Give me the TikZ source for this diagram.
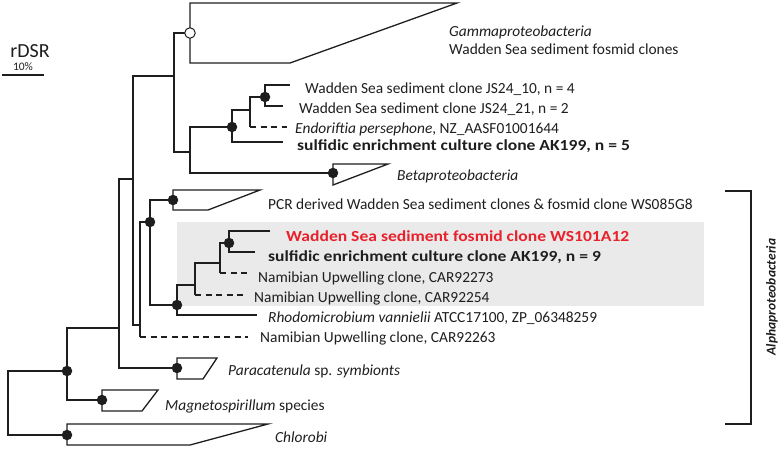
\documentclass[tikz,border=0pt]{standalone}
\usepackage{fontspec}
\setmainfont{Carlito}
\definecolor{lc}{HTML}{1E1E1E}
\definecolor{tc}{HTML}{1E1E1E}
\definecolor{redtxt}{HTML}{E8212B}
\definecolor{greybox}{HTML}{EAEAEA}
\newcommand{\wbold}[1]{\scalebox{1.14}[1]{\bfseries #1}}
\begin{document}
\begin{tikzpicture}[x=1pt,y=-1pt,
  br/.style={draw=lc, line width=1.3pt},
  dashbr/.style={draw=lc, line width=1.3pt, dash pattern=on 6pt off 4.5pt},
  clade/.style={draw=lc, line width=1.3pt, line join=miter},
  dot/.style={circle, fill=lc, inner sep=0pt, minimum size=10.5pt},
  odot/.style={circle, draw=lc, fill=white, line width=1pt, inner sep=0pt, minimum size=10.5pt},
  lbl/.style={anchor=base west, inner sep=0pt, font=\fontsize{15.4}{18}\selectfont, text=tc}]
\useasboundingbox (0,0) rectangle (780,448);
% highlight box
\fill[greybox] (177,222) rectangle (704,306);
% scale
\node[font=\fontsize{20}{24}\selectfont, text=tc, inner sep=0pt] (rdsr) at (30,51) {rDSR};
\node[font=\fontsize{11.5}{13}\selectfont, text=tc, inner sep=0pt] (pct) at (23,67) {10\%};
\coordinate (sbL) at (2,75);
\coordinate (sbR) at (44,75);
\draw[br] (sbL) -- (sbR);
% tree coordinates
\coordinate (R) at (8,400);
\coordinate (A67) at (67,371);
\coordinate (Chl) at (67,435);
\coordinate (Mag) at (102,400);
\coordinate (N119) at (119,328);
\coordinate (N133) at (133,179);
\coordinate (Para) at (177,368);
\coordinate (N174) at (174,76);
\coordinate (N140) at (140,325);
\coordinate (Gam) at (190,33);
\coordinate (N190) at (190,152);
\coordinate (C232) at (232,127);
\coordinate (Beta) at (333,173);
\coordinate (N250) at (250,110);
\coordinate (N265) at (265,97);
\coordinate (L1) at (290,85);
\coordinate (L2) at (283,106);
\coordinate (Lendo) at (287,127);
\coordinate (L5) at (283,142);
\coordinate (N150) at (150,222);
\coordinate (L63) at (248,337);
\coordinate (PCR) at (173,200);
\coordinate (G177) at (177,305);
\coordinate (N195) at (195,285);
\coordinate (Lrho) at (257,315);
\coordinate (N220) at (220,263);
\coordinate (L54) at (243,295);
\coordinate (N229) at (229,243);
\coordinate (L73) at (247,273);
\coordinate (Lred) at (270,231);
\coordinate (L9) at (255,252);
% branches
\draw[br] (A67) -| (R) |- (Chl);
\draw[br] (N119) -| (A67) |- (Mag);
\draw[br] (N133) -| (N119) |- (Para);
\draw[br] (N174) -| (N133) |- (N140);
\draw[br] (Gam) -| (N174) |- (N190);
\draw[br] (C232) -| (N190) |- (Beta);
\draw[br] (N250) -| (C232) |- (L5);
\draw[br] (N265) -| (N250) -- (N250 |- Lendo);
\draw[dashbr] (N250 |- Lendo) -- (Lendo);
\draw[br] (L1) -| (N265) |- (L2);
\draw[br] (N150) -| (N140) -- (N140 |- L63);
\draw[dashbr] (N140 |- L63) -- (L63);
\draw[br] (PCR) -| (N150) |- (G177);
\draw[br] (N195) -| (G177) |- (Lrho);
\draw[br] (N220) -| (N195) -- (N195 |- L54);
\draw[dashbr] (N195 |- L54) -- (L54);
\draw[br] (N229) -| (N220) -- (N220 |- L73);
\draw[dashbr] (N220 |- L73) -- (L73);
\draw[br] (Lred) -| (N229) |- (L9);
% collapsed clades
\draw[clade] (190,3) -- (457,3) -- (290,63) -- (190,63) -- cycle;
\draw[clade] (333,164) -- (388,164) -- (333,185) -- cycle;
\draw[clade] (173,190) -- (260,190) -- (208,210) -- (173,210) -- cycle;
\draw[clade] (177,358) -- (217,358) -- (203,379) -- (177,379) -- cycle;
\draw[clade] (102,390) -- (158,390) -- (142,411) -- (102,411) -- cycle;
\draw[clade] (67,424) -- (268,424) -- (190,445) -- (67,445) -- cycle;
% support dots
\node[odot] (dGam) at (Gam) {};
\node[dot] (d265) at (N265) {};
\node[dot] (d232) at (C232) {};
\node[dot] (dBeta) at (Beta) {};
\node[dot] (dPCR) at (PCR) {};
\node[dot] (d150) at (N150) {};
\node[dot] (d229) at (N229) {};
\node[dot] (d177) at (G177) {};
\node[dot] (dPara) at (Para) {};
\node[dot] (d67) at (A67) {};
\node[dot] (dMag) at (Mag) {};
\node[dot] (dChl) at (Chl) {};
% labels
\node[lbl] (tGam) at (449,36) {\textit{Gammaproteobacteria}};
\node[lbl] (tGam2) at (449,54) {Wadden Sea sediment fosmid clones};
\node[lbl] (t1) at (305,93) {Wadden Sea sediment clone JS24\_10, n = 4};
\node[lbl] (t2) at (299,113) {Wadden Sea sediment clone JS24\_21, n = 2};
\node[lbl] (t3) at (295,133) {\textit{Endoriftia persephone}, NZ\_AASF01001644};
\node[lbl] (t4) at (297,150) {\wbold{sulfidic enrichment culture clone AK199, n = 5}};
\node[lbl] (tBeta) at (397,180) {\textit{Betaproteobacteria}};
\node[lbl] (tPCR) at (268,209) {PCR derived Wadden Sea sediment clones \& fosmid clone WS085G8};
\node[lbl, text=redtxt] (tRed) at (286,241) {\wbold{Wadden Sea sediment fosmid clone WS101A12}};
\node[lbl] (t9) at (268,261) {\wbold{sulfidic enrichment culture clone AK199, n = 9}};
\node[lbl] (t73) at (258,282) {Namibian Upwelling clone, CAR92273};
\node[lbl] (t54) at (254,302) {Namibian Upwelling clone, CAR92254};
\node[lbl] (tRho) at (268,322) {\textit{Rhodomicrobium vannielii} ATCC17100, ZP\_06348259};
\node[lbl] (t63) at (260,342) {Namibian Upwelling clone, CAR92263};
\node[lbl] (tPara) at (228,375) {\textit{Paracatenula} sp. \textit{symbionts}};
\node[lbl] (tMag) at (165,410) {\textit{Magnetospirillum} species};
\node[lbl] (tChl) at (275,442) {\textit{Chlorobi}};
% Alphaproteobacteria bracket
\coordinate (bT0) at (725,191);
\coordinate (bT1) at (751,191);
\coordinate (bB1) at (751,424);
\coordinate (bB0) at (725,424);
\draw[br] (bT0) -- (bT1) -- (bB1) -- (bB0);
\node[rotate=90, inner sep=0pt, font=\fontsize{13.5}{16}\selectfont\bfseries\itshape, text=tc] (tAlpha) at (772,297) {Alphaproteobacteria};
\end{tikzpicture}
\end{document}
